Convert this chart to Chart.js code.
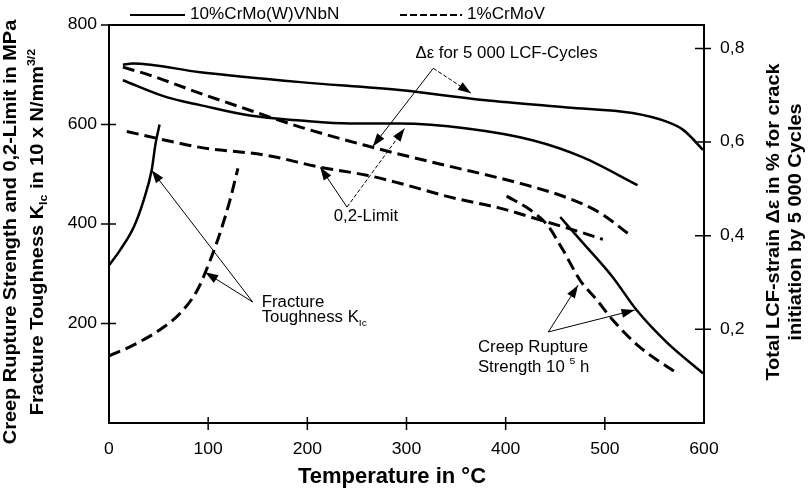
<!DOCTYPE html>
<html>
<head>
<meta charset="utf-8">
<script src="https://cdn.jsdelivr.net/npm/chart.js@4/dist/chart.umd.min.js"></script>
<style>
  body { margin: 0; background: #fff; }
  canvas { display: block; }
</style>
</head>
<body>
<canvas id="myChart" width="809" height="495"></canvas>
<script>
// 10%CrMo(W)VNbN
const lcfNewTemp = [14, 24, 92, 193, 293, 377, 462, 528, 563, 579, 589, 599];
const lcfNewStrain = [0.765, 0.768, 0.749, 0.728, 0.711, 0.690, 0.674, 0.662, 0.643, 0.626, 0.606, 0.583];
const limitNewTemp = [14, 58, 92, 142, 193, 243, 293, 361, 428, 478, 533];
const limitNewMPa = [689, 655, 639, 618, 608, 602, 602, 592, 568, 534, 478];
const creepNewTemp = [455, 477, 508, 532, 563, 599];
const creepNewMPa = [414, 364, 293, 227, 161, 100];
const toughNewTemp = [0, 11, 25, 35, 43, 47, 51];
const toughNewVal = [317, 347, 394, 448, 508, 562, 600];

// 1%CrMoV
const lcfOldTemp = [14, 41, 92, 142, 193, 260, 293, 344, 394, 428, 462, 495, 525];
const lcfOldStrain = [0.760, 0.743, 0.704, 0.668, 0.632, 0.592, 0.574, 0.548, 0.523, 0.504, 0.481, 0.449, 0.402];
const limitOldTemp = [18, 58, 92, 159, 213, 260, 293, 344, 394, 435, 475, 498];
const limitOldMPa = [586, 568, 554, 538, 514, 498, 482, 454, 432, 408, 384, 369];
const creepOldTemp = [401, 425, 442, 458, 475, 492, 508, 535, 573];
const creepOldMPa = [456, 428, 398, 347, 287, 247, 207, 153, 100];
const toughOldTemp = [0, 25, 51, 72, 89, 102, 112, 122, 130];
const toughOldVal = [135, 157, 187, 221, 267, 327, 382, 448, 512];

const tempTicks = [0, 100, 200, 300, 400, 500, 600];
const mpaTicks = [200, 400, 600, 800];
const strainTicks = [0.2, 0.4, 0.6, 0.8];

const FONT = '"Liberation Sans", Arial, sans-serif';

function pts(xs, ys) {
  return xs.map((x, i) => ({ x: x, y: ys[i] }));
}

function serie(xs, ys, dashed, axis) {
  return {
    data: pts(xs, ys),
    yAxisID: axis,
    showLine: true,
    borderColor: '#000',
    borderWidth: dashed ? 3 : 2.5,
    borderDash: dashed ? [12, 6] : [],
    pointRadius: 0,
    cubicInterpolationMode: 'monotone',
    fill: false
  };
}

// text with sub/superscripts, stretched along the reading direction
function rich(ctx, parts, x, y, size, bold, align, stretch) {
  const w = bold ? 'bold ' : '';
  stretch = stretch || 1;
  let total = 0;
  parts.forEach(p => {
    const s = p[1] ? size * 0.62 : size;
    ctx.font = w + s + 'px ' + FONT;
    p.w = ctx.measureText(p[0]).width;
    total += p.w;
  });
  ctx.save();
  ctx.translate(x, y);
  ctx.scale(stretch, 1);
  let cx = 0;
  if (align === 'center') cx = -total / 2;
  if (align === 'right') cx = -total;
  ctx.textAlign = 'left';
  ctx.textBaseline = 'middle';
  parts.forEach(p => {
    const s = p[1] ? size * 0.62 : size;
    ctx.font = w + s + 'px ' + FONT;
    let dy = 0;
    if (p[1] === 'sub') dy = size * 0.3;
    if (p[1] === 'sup') dy = -size * 0.35;
    ctx.fillText(p[0], cx, dy);
    cx += p.w;
  });
  ctx.restore();
}

function arrow(ctx, ax, ay, tx, ty, dash) {
  ctx.save();
  ctx.lineWidth = 1;
  ctx.setLineDash(dash ? [4, 2] : []);
  ctx.beginPath();
  ctx.moveTo(ax, ay);
  ctx.lineTo(tx, ty);
  ctx.stroke();
  ctx.setLineDash([]);
  const a = Math.atan2(ty - ay, tx - ax);
  const len = 13, half = 4.5;
  ctx.beginPath();
  ctx.moveTo(tx, ty);
  ctx.lineTo(tx - len * Math.cos(a) + half * Math.sin(a), ty - len * Math.sin(a) - half * Math.cos(a));
  ctx.lineTo(tx - len * Math.cos(a) - half * Math.sin(a), ty - len * Math.sin(a) + half * Math.cos(a));
  ctx.closePath();
  ctx.fill();
  ctx.restore();
}

function vtitle(ctx, parts, x, y) {
  ctx.save();
  ctx.translate(x, y);
  ctx.rotate(-Math.PI / 2);
  rich(ctx, parts, 0, 0, 19, true, 'center', 1.05);
  ctx.restore();
}

const decor = {
  id: 'decor',
  afterDraw(chart) {
    const ctx = chart.ctx;
    const area = chart.chartArea;
    const sx = chart.scales.x, sy = chart.scales.y, sy2 = chart.scales.y2;
    const X = v => sx.getPixelForValue(v);
    const Y = v => sy.getPixelForValue(v);
    const txt = 16, st = 1.05;
    ctx.save();
    ctx.strokeStyle = '#000';
    ctx.fillStyle = '#000';

    // top frame line
    ctx.lineWidth = 2;
    ctx.beginPath();
    ctx.moveTo(area.left, area.top);
    ctx.lineTo(area.right, area.top);
    ctx.stroke();

    // tick marks crossing the axes
    ctx.lineWidth = 1.5;
    ctx.beginPath();
    mpaTicks.forEach(v => { ctx.moveTo(area.left - 8, Y(v)); ctx.lineTo(area.left + 7, Y(v)); });
    strainTicks.forEach(v => { const y = sy2.getPixelForValue(v); ctx.moveTo(area.right - 9, y); ctx.lineTo(area.right + 7, y); });
    tempTicks.slice(1, 6).forEach(v => { ctx.moveTo(X(v), area.bottom - 6); ctx.lineTo(X(v), area.bottom + 7); });
    ctx.stroke();

    // tick labels
    mpaTicks.forEach(v => rich(ctx, [[String(v)]], area.left - 12, Y(v), 16, false, 'right', 1.1));
    strainTicks.forEach(v => rich(ctx, [[v.toFixed(1).replace('.', ',')]], area.right + 16, sy2.getPixelForValue(v), 16, false, 'left', 1.1));
    tempTicks.forEach(v => rich(ctx, [[String(v)]], X(v), area.bottom + 27, 16, false, 'center', 1.1));

    // legend
    ctx.lineWidth = 2;
    ctx.beginPath();
    ctx.moveTo(130, 15); ctx.lineTo(185, 15);
    ctx.stroke();
    ctx.setLineDash([7, 3]);
    ctx.beginPath();
    ctx.moveTo(400, 15); ctx.lineTo(462, 15);
    ctx.stroke();
    ctx.setLineDash([]);
    rich(ctx, [['10%CrMo(W)VNbN']], 190, 15, txt, false, 'left', 1.07);
    rich(ctx, [['1%CrMoV']], 467, 15, txt, false, 'left', 1.07);

    // annotations
    rich(ctx, [['\u0394\u03b5 for 5 000 LCF-Cycles']], X(309), Y(743), txt, false, 'left', st);
    arrow(ctx, X(327), Y(713), X(365), Y(663), true);
    arrow(ctx, X(327), Y(713), X(266), Y(556), false);

    rich(ctx, [['0,2-Limit']], X(259), Y(414), txt, false, 'center', st);
    arrow(ctx, X(240), Y(434), X(213), Y(514), false);
    arrow(ctx, X(240), Y(434), X(298), Y(592), true);

    rich(ctx, [['Fracture']], X(154), Y(243), txt, false, 'left', st);
    rich(ctx, [['Toughness K'], ['Ic', 'sub']], X(154), Y(211), txt, false, 'left', st);
    arrow(ctx, X(145), Y(243), X(43), Y(508), false);
    arrow(ctx, X(145), Y(243), X(97), Y(303), false);

    rich(ctx, [['Creep Rupture']], X(372), Y(151), txt, false, 'left', st);
    rich(ctx, [['Strength 10 '], ['5', 'sup'], [' h']], X(372), Y(112), txt, false, 'left', st);
    arrow(ctx, X(443), Y(183), X(473), Y(277), false);
    arrow(ctx, X(443), Y(183), X(530), Y(227), false);

    // axis titles
    rich(ctx, [['Temperature in \u00b0C']], 392, 477, 22, true, 'center', 1);
    vtitle(ctx, [['Creep Rupture Strength and 0,2-Limit in MPa']], 11, 232);
    vtitle(ctx, [['Fracture Toughness K'], ['Ic', 'sub'], [' in 10 x N/mm'], ['3/2', 'sup']], 38, 232);
    vtitle(ctx, [['Total LCF-strain \u0394\u03b5 in % for crack']], 774, 222);
    vtitle(ctx, [['initiation by 5 000 Cycles']], 796, 222);

    ctx.restore();
  }
};

const myChart = new Chart(document.getElementById('myChart').getContext('2d'), {
  type: 'scatter',
  data: {
    datasets: [
      serie(lcfNewTemp, lcfNewStrain, false, 'y2'),
      serie(limitNewTemp, limitNewMPa, false, 'y'),
      serie(creepNewTemp, creepNewMPa, false, 'y'),
      serie(toughNewTemp, toughNewVal, false, 'y'),
      serie(lcfOldTemp, lcfOldStrain, true, 'y2'),
      serie(limitOldTemp, limitOldMPa, true, 'y'),
      serie(creepOldTemp, creepOldMPa, true, 'y'),
      serie(toughOldTemp, toughOldVal, true, 'y')
    ]
  },
  options: {
    responsive: false,
    animation: false,
    layout: { padding: { top: 25, left: 0, right: 0, bottom: 0 } },
    plugins: { legend: { display: false }, tooltip: { enabled: false } },
    scales: {
      x: {
        type: 'linear', min: 0, max: 600,
        afterBuildTicks: s => { s.ticks = tempTicks.map(v => ({ value: v })); },
        ticks: { display: false },
        grid: { display: false, drawTicks: false },
        border: { color: '#000', width: 2 },
        afterFit: s => { s.height = 72; }
      },
      y: {
        position: 'left', min: 0, max: 800,
        afterBuildTicks: s => { s.ticks = mpaTicks.map(v => ({ value: v })); },
        ticks: { display: false },
        grid: { display: false, drawTicks: false },
        border: { color: '#000', width: 2 },
        afterFit: s => { s.width = 109; }
      },
      y2: {
        position: 'right', min: 0, max: 0.85,
        afterBuildTicks: s => { s.ticks = strainTicks.map(v => ({ value: v })); },
        ticks: { display: false },
        grid: { display: false, drawTicks: false },
        border: { color: '#000', width: 2 },
        afterFit: s => { s.width = 105; }
      }
    }
  },
  plugins: [decor]
});
</script>
</body>
</html>
